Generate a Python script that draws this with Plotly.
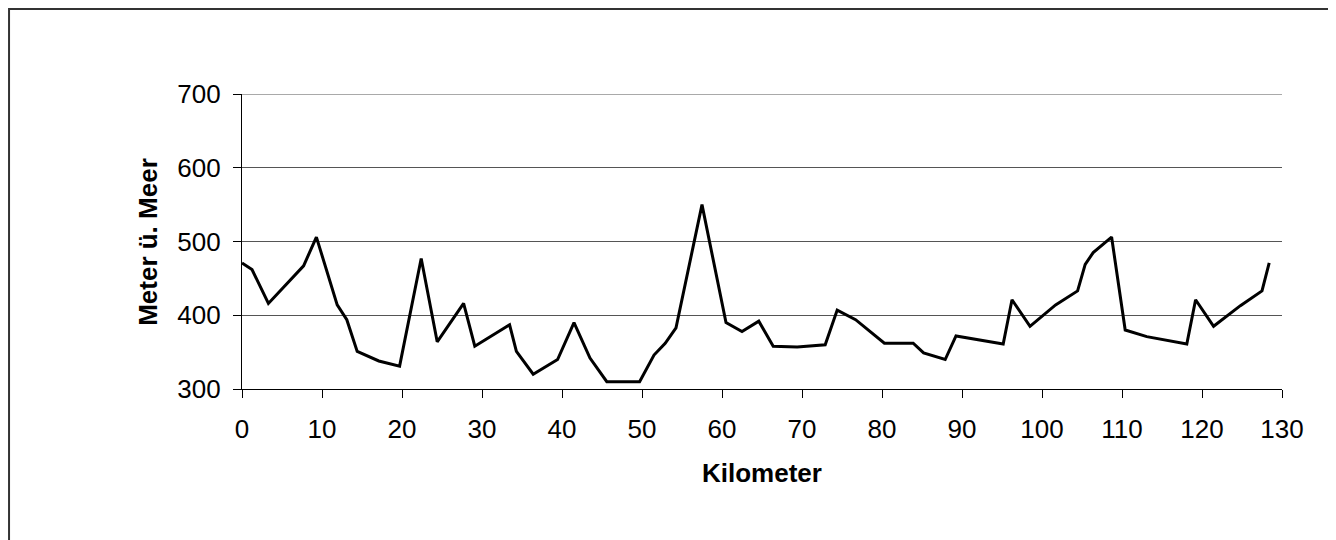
import plotly.graph_objects as go

km = [0, 1.25, 3.3, 7.7, 9.3, 11.9, 13.1, 14.4, 17.1, 19.7, 22.4, 24.4, 27.7, 29.1,
      33.45, 34.3, 36.4, 39.45, 41.5, 43.5, 45.6, 49.7, 51.5, 52.9, 54.25, 57.5,
      60.5, 62.5, 64.6, 66.4, 69.4, 72.9, 74.4, 76.7, 80.3, 83.9, 85.2, 87.9, 89.25,
      95.15, 96.25, 98.5, 101.7, 104.45, 105.4, 106.4, 108.7, 110.4, 113.1, 118.1,
      119.2, 121.45, 124.8, 127.5, 128.4]
elev = [471, 462, 416, 467, 506, 414, 394, 351, 338, 331, 477, 364, 416, 358,
        387, 351, 320, 340, 390, 342, 310, 310, 346, 362, 383, 550,
        390, 378, 392, 358, 357, 360, 407, 394, 362, 362, 349, 340, 372,
        361, 421, 385, 414, 433, 469, 485, 506, 380, 371, 361,
        421, 385, 413, 433, 471]

x_ticks = list(range(0, 131, 10))
y_ticks = [300, 400, 500, 600, 700]
y_top = y_ticks[-1]

FONT = "Liberation Sans, Arial, sans-serif"
FS = 26

fig = go.Figure()
fig.add_trace(go.Scatter(x=km, y=elev, mode="lines",
                         line=dict(color="black", width=3), showlegend=False,
                         hoverinfo="skip"))

fig.update_layout(
    width=1328, height=532,
    margin=dict(l=234, r=54, t=86, b=151, pad=0),
    paper_bgcolor="white", plot_bgcolor="white",
    font=dict(family=FONT, size=FS, color="black"),
    showlegend=False,
)
fig.update_xaxes(range=[0, 130], tickvals=x_ticks, ticktext=[str(v) for v in x_ticks],
                 showgrid=False, zeroline=False, showline=True, linecolor="black",
                 linewidth=1.3, ticks="outside", ticklen=8, tickcolor="black",
                 tickwidth=1.3, ticklabelstandoff=9,
                 tickfont=dict(family=FONT, size=FS, color="black"))
fig.update_yaxes(range=[300, 700], tickvals=y_ticks, ticktext=[str(v) for v in y_ticks],
                 showgrid=True, gridcolor="#555555", gridwidth=1.2, zeroline=False,
                 showline=True, linecolor="black", linewidth=1.3,
                 ticks="outside", ticklen=8, tickcolor="black", tickwidth=1.3,
                 ticklabelstandoff=7,
                 tickfont=dict(family=FONT, size=FS, color="black"))

# top gridline (at the range edge)
fig.add_shape(type="line", xref="paper", yref="y", x0=0, x1=1, y0=y_top, y1=y_top,
              line=dict(color="#555555", width=1.2), layer="below")

fig.add_annotation(text="<b>Kilometer</b>", xref="paper", yref="paper",
                   x=0.5, y=-0.2847, xanchor="center", yanchor="middle",
                   showarrow=False, font=dict(family=FONT, size=FS, color="black"))
fig.add_annotation(text="<b>Meter ü. Meer</b>", xref="paper", yref="paper",
                   x=-0.091, y=0.5, xanchor="center", yanchor="middle", textangle=-90,
                   showarrow=False, font=dict(family=FONT, size=FS, color="black"))

fig.add_shape(type="rect", xref="paper", yref="paper",
              x0=-0.2240, x1=1.0462, y0=-0.7, y1=1.288,
              line=dict(color="#333333", width=2), fillcolor="rgba(0,0,0,0)", layer="below")

fig.write_html("out.html")
